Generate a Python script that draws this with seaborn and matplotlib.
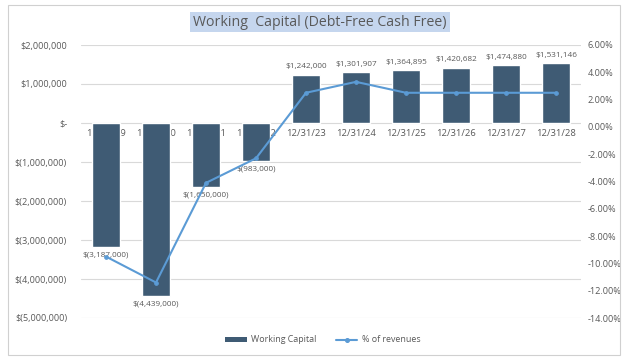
import matplotlib
matplotlib.use("Agg")
import matplotlib.pyplot as plt
import matplotlib.ticker as mticker
from matplotlib.lines import Line2D
from matplotlib.patches import Patch, Rectangle
import seaborn as sns

periods = ["12/31/19", "12/31/20", "12/31/21", "12/31/22", "12/31/23",
           "12/31/24", "12/31/25", "12/31/26", "12/31/27", "12/31/28"]
working_capital = [-3187000, -4439000, -1650000, -983000, 1242000,
                   1301907, 1364895, 1420682, 1474880, 1531146]
pct_of_revenues = [-9.5, -11.4, -4.1, -2.3, 2.5, 3.3, 2.5, 2.5, 2.5, 2.5]
left_ticks = [2000000, 1000000, 0, -1000000, -2000000, -3000000, -4000000, -5000000]
right_ticks = [6, 4, 2, 0, -2, -4, -6, -8, -10, -12, -14]

BAR = "#3f5b74"
LINE = "#5b9bd5"
TXT = "#595959"
GRID = "#d9d9d9"

sns.set_theme(style="white")
plt.rcParams["font.family"] = ["Open Sans", "DejaVu Sans"]

fig = plt.figure(figsize=(6.27, 3.58), dpi=100)
fig.patch.set_facecolor("white")
fig.add_artist(Rectangle((8 / 627, 3 / 358), 612 / 627, 350 / 358,
                         transform=fig.transFigure, fill=False,
                         edgecolor="#d0d0d0", linewidth=0.8))

ax = fig.add_axes([81 / 627, 1 - 318 / 358, 500 / 627, 273 / 358])
sns.barplot(x=periods, y=working_capital, ax=ax, color=BAR, width=0.56,
            saturation=1, zorder=2)
ax.set_xlim(-0.5, len(periods) - 0.5)
ax.set_ylim(-5000000, 2000000)
ax.set_yticks(left_ticks)


def money(v, _pos=None):
    if v == 0:
        return "$-"
    if v < 0:
        return "$({:,.0f})".format(-v)
    return "${:,.0f}".format(v)


ax.yaxis.set_major_formatter(mticker.FuncFormatter(money))
ax.tick_params(axis="y", labelsize=6.6, labelcolor=TXT, length=0, pad=10)
ax.set_xticks([])
ax.set_xlabel("")
ax.set_ylabel("")
for y in left_ticks:
    ax.axhline(y, color=GRID, linewidth=0.8, zorder=0)
for s in ax.spines.values():
    s.set_visible(False)

# category labels sit on the zero line, behind the bars
for i, p in enumerate(periods):
    ax.annotate(p, (i, 0), xytext=(0, -4), textcoords="offset points",
                ha="center", va="top", fontsize=6.8, color=TXT, zorder=1)

# value labels
for i, v in enumerate(working_capital):
    off = 3 if v > 0 else -3
    ax.annotate(money(v), (i, v), xytext=(0, off), textcoords="offset points",
                ha="center", va="bottom" if v > 0 else "top",
                fontsize=5.9, color=TXT, zorder=3)

ax2 = ax.twinx()
sns.lineplot(x=periods, y=pct_of_revenues, ax=ax2, color=LINE, linewidth=1.5,
             marker="o", markersize=2.6, markeredgecolor=LINE, sort=False)
ax2.set_ylim(-14, 6)
ax2.set_yticks(right_ticks)
ax2.yaxis.set_major_formatter(mticker.FuncFormatter(lambda v, p: "{:.2f}%".format(v)))
ax2.tick_params(axis="y", labelsize=6.6, labelcolor=TXT, length=0, pad=5)
ax2.set_ylabel("")
for s in ax2.spines.values():
    s.set_visible(False)

fig.text(320 / 627, 1 - 22 / 358, "Working  Capital (Debt-Free Cash Free)",
         ha="center", va="center", fontsize=10.2, color=TXT,
         bbox=dict(boxstyle="square,pad=0.2", facecolor="#c5d6ee",
                   edgecolor="none"))

handles = [Patch(facecolor=BAR, edgecolor="none"),
           Line2D([0], [0], color=LINE, linewidth=1.5, marker="o", markersize=2.6)]
fig.legend(handles, ["Working Capital", "% of revenues"],
           loc="center", bbox_to_anchor=(323 / 627, 1 - 340 / 358), ncol=2,
           frameon=False, fontsize=6.4, labelcolor=TXT, handlelength=2.4,
           handleheight=0.5, columnspacing=2.2, handletextpad=0.5)

fig.savefig("out.png", dpi=100)
